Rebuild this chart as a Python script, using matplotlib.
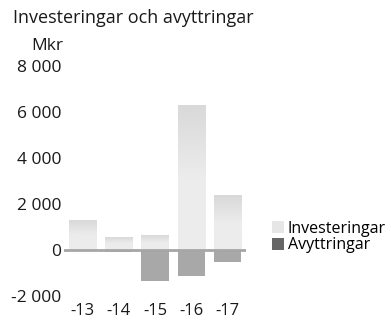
import numpy as np
import matplotlib.pyplot as plt
from matplotlib.patches import Patch
from matplotlib.colors import LinearSegmentedColormap

years = ['-13', '-14', '-15', '-16', '-17']
investeringar = [1280, 530, 650, 6300, 2390]
avyttringar = [-30, -100, -1350, -1140, -500]
yticks = [-2000, 0, 2000, 4000, 6000, 8000]
ytick_labels = ['-2 000', '0', '2 000', '4 000', '6 000', '8 000']

plt.rcParams['font.family'] = ['Open Sans', 'DejaVu Sans']

fig = plt.figure(figsize=(3.91, 3.2), dpi=100)
ax = fig.add_axes([64 / 391, 24 / 320, 182 / 391, 230 / 320])

x = np.arange(len(years))
w = 0.75

# light bars fade from grey at the top to near white
grad = LinearSegmentedColormap.from_list('g', ['#ececec', '#ececec', '#d9d9d9'])
ramp = np.linspace(0, 1, 100).reshape(-1, 1)
for xi, v in zip(x, investeringar):
    ax.imshow(ramp, cmap=grad, aspect='auto', origin='lower',
              extent=[xi - w / 2, xi + w / 2, 0, v], zorder=1)

ax.bar(x, avyttringar, width=w, color='#a8a8a8', zorder=1)
ax.axhline(0, color='#a6a6a6', lw=2, zorder=3)

ax.set_xlim(-0.5, 4.5)
ax.set_ylim(-2000, 8000)
ax.set_xticks(x)
ax.set_xticklabels(years, fontsize=12)
ax.set_yticks(yticks)
ax.set_yticklabels(ytick_labels, fontsize=12.5)
ax.tick_params(length=0, pad=2, colors='#1a1a1a')
ax.tick_params(axis='x', pad=5)
for s in ax.spines.values():
    s.set_visible(False)

fig.text(13 / 391, 1 - 18 / 320, 'Investeringar och avyttringar',
         fontsize=13, va='center', ha='left', color='#1a1a1a')
fig.text(47 / 391, 1 - 46 / 320, 'Mkr', fontsize=12.5, va='center',
         ha='center', color='#1a1a1a')

handles = [Patch(facecolor='#e6e6e6'), Patch(facecolor='#666666')]
fig.legend(handles, ['Investeringar', 'Avyttringar'], loc='center left',
           bbox_to_anchor=(264 / 391, 1 - 237 / 320), frameon=False,
           fontsize=11.5, handlelength=0.75, handleheight=0.8,
           handletextpad=0.25, labelspacing=0.05, borderpad=0)

fig.savefig('out.png', dpi=100)
